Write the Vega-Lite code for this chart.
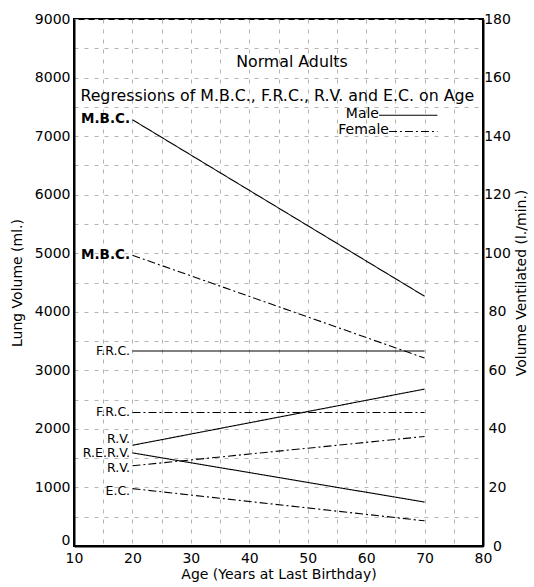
{
  "$schema": "https://vega.github.io/schema/vega-lite/v6.json",
  "autosize": {"type": "none"},
  "padding": {"left": 74, "top": 19, "right": 51, "bottom": 41},
  "width": 409,
  "height": 527,
  "background": "white",
  "config": {
    "font": "DejaVu Sans",
    "view": {"stroke": "black", "strokeWidth": 2},
    "axis": {
      "labelFont": "DejaVu Sans", "titleFont": "DejaVu Sans", "labelFontSize": 14, "titleFontSize": 14,
      "titleFontWeight": "normal", "labelColor": "black", "titleColor": "black",
      "domainColor": "black", "domainWidth": 2, "tickSize": 0, "labelPadding": 4
    }
  },
  "datasets": {
    "lines_ml": [
      {"measure": "F.R.C.", "sex": "Male", "age": 20, "ml": 3330},
      {"measure": "F.R.C.", "sex": "Male", "age": 70, "ml": 3330},
      {"measure": "F.R.C.", "sex": "Female", "age": 20, "ml": 2280},
      {"measure": "F.R.C.", "sex": "Female", "age": 70, "ml": 2280},
      {"measure": "R.V.", "sex": "Male", "age": 20, "ml": 1720},
      {"measure": "R.V.", "sex": "Male", "age": 70, "ml": 2680},
      {"measure": "R.V.", "sex": "Female", "age": 20, "ml": 1370},
      {"measure": "R.V.", "sex": "Female", "age": 70, "ml": 1870},
      {"measure": "R.E.R.V.", "sex": "Male", "age": 20, "ml": 1590},
      {"measure": "R.E.R.V.", "sex": "Male", "age": 70, "ml": 750},
      {"measure": "E.C.", "sex": "Female", "age": 20, "ml": 980},
      {"measure": "E.C.", "sex": "Female", "age": 70, "ml": 430}
    ],
    "legend_lines": [
      {"sex": "Male", "age": 62.2, "ml": 7355},
      {"sex": "Male", "age": 72.2, "ml": 7355},
      {"sex": "Female", "age": 63.9, "ml": 7080},
      {"sex": "Female", "age": 72.2, "ml": 7080}
    ],
    "lines_vent": [
      {"measure": "M.B.C.", "sex": "Male", "age": 20, "lmin": 145.6},
      {"measure": "M.B.C.", "sex": "Male", "age": 70, "lmin": 85.3},
      {"measure": "M.B.C.", "sex": "Female", "age": 20, "lmin": 99.3},
      {"measure": "M.B.C.", "sex": "Female", "age": 70, "lmin": 64.2}
    ],
    "bold_labels": [
      {"label": "M.B.C.", "age": 19.6, "ml": 7290},
      {"label": "M.B.C.", "age": 19.6, "ml": 4970}
    ],
    "labels": [
      {"label": "F.R.C.", "age": 19.6, "ml": 3330},
      {"label": "F.R.C.", "age": 19.6, "ml": 2290},
      {"label": "R.V.", "age": 19.6, "ml": 1830},
      {"label": "R.E.R.V.", "age": 19.6, "ml": 1580},
      {"label": "R.V.", "age": 19.6, "ml": 1330},
      {"label": "E.C.", "age": 19.6, "ml": 945}
    ],
    "legend_text": [
      {"label": "Male", "age": 62.2, "ml": 7380},
      {"label": "Female", "age": 63.9, "ml": 7100}
    ],
    "titles": [
      {"label": "Normal Adults", "age": 47.3, "ml": 8260},
      {"label": "Regressions of M.B.C., F.R.C., R.V. and E.C. on Age", "age": 44.8, "ml": 7680}
    ]
  },
  "encoding": {
    "x": {
      "field": "age", "type": "quantitative",
      "scale": {"domain": [10, 80], "nice": false},
      "axis": {
        "title": "Age (Years at Last Birthday)",
        "values": [10, 15, 20, 25, 30, 35, 40, 45, 50, 55, 60, 65, 70, 75, 80],
        "labelExpr": "datum.value % 10 === 0 ? datum.label : ''",
        "grid": true, "gridColor": "#b4b4b4", "gridDash": [4, 6], "gridOpacity": 1, "gridWidth": 1,
        "titlePadding": 2, "labelFlush": false, "labelPadding": 5
      }
    }
  },
  "layer": [
    {
      "encoding": {
        "y": {
          "field": "ml", "type": "quantitative",
          "scale": {"domain": [0, 9000], "nice": false},
          "axis": {
            "title": "Lung Volume (ml.)",
            "orient": "left",
            "values": [0, 500, 1000, 1500, 2000, 2500, 3000, 3500, 4000, 4500, 5000, 5500, 6000, 6500, 7000, 7500, 8000, 8500, 9000],
            "labelExpr": "datum.value % 1000 === 0 ? datum.value : ''",
            "labelOffset": {"condition": {"test": "datum.value === 0", "value": -6}, "value": 0},
            "grid": true, "gridColor": "#b4b4b4", "gridDash": [4, 6], "gridOpacity": 1, "gridWidth": 1,
            "titlePadding": 10, "labelFlush": false
          }
        }
      },
      "layer": [
        {
          "data": {"name": "lines_ml"},
          "mark": {"type": "line", "color": "black", "strokeWidth": 1.1},
          "encoding": {
            "detail": {"field": "measure"},
            "strokeDash": {
              "field": "sex", "type": "nominal",
              "scale": {"domain": ["Male", "Female"], "range": [[1, 0], [8, 3, 2, 3]]},
              "legend": null
            }
          }
        },
        {
          "data": {"name": "legend_lines"},
          "mark": {"type": "line", "color": "black", "strokeWidth": 1.1},
          "encoding": {
            "strokeDash": {
              "field": "sex", "type": "nominal",
              "scale": {"domain": ["Male", "Female"], "range": [[1, 0], [8, 3, 2, 3]]},
              "legend": null
            }
          }
        },
        {
          "data": {"name": "bold_labels"},
          "mark": {"type": "text", "align": "right", "baseline": "middle", "fontSize": 13.5, "fontWeight": "bold", "color": "black"},
          "encoding": {"text": {"field": "label"}}
        },
        {
          "data": {"name": "labels"},
          "mark": {"type": "text", "align": "right", "baseline": "middle", "fontSize": 12.5, "color": "black"},
          "encoding": {"text": {"field": "label"}}
        },
        {
          "data": {"name": "legend_text"},
          "mark": {"type": "text", "align": "right", "baseline": "middle", "fontSize": 14, "color": "black"},
          "encoding": {"text": {"field": "label"}}
        },
        {
          "data": {"name": "titles"},
          "mark": {"type": "text", "align": "center", "baseline": "middle", "fontSize": 15.8, "color": "black"},
          "encoding": {"text": {"field": "label"}}
        }
      ]
    },
    {
      "data": {"name": "lines_vent"},
      "mark": {"type": "line", "color": "black", "strokeWidth": 1.1},
      "encoding": {
        "y": {
          "field": "lmin", "type": "quantitative",
          "scale": {"domain": [0, 180], "nice": false},
          "axis": {
            "title": "Volume Ventilated (l./min.)",
            "orient": "right",
            "values": [0, 20, 40, 60, 80, 100, 120, 140, 160, 180],
            "grid": false,
            "labelAlign": "center", "labelPadding": 14,
            "titleAngle": 270, "titleBaseline": "top", "titlePadding": 4, "labelFlush": false
          }
        },
        "detail": {"field": "sex"},
        "strokeDash": {
          "field": "sex", "type": "nominal",
          "scale": {"domain": ["Male", "Female"], "range": [[1, 0], [8, 3, 2, 3]]},
          "legend": null
        }
      }
    }
  ],
  "resolve": {"scale": {"y": "independent"}, "axis": {"y": "independent"}}
}
